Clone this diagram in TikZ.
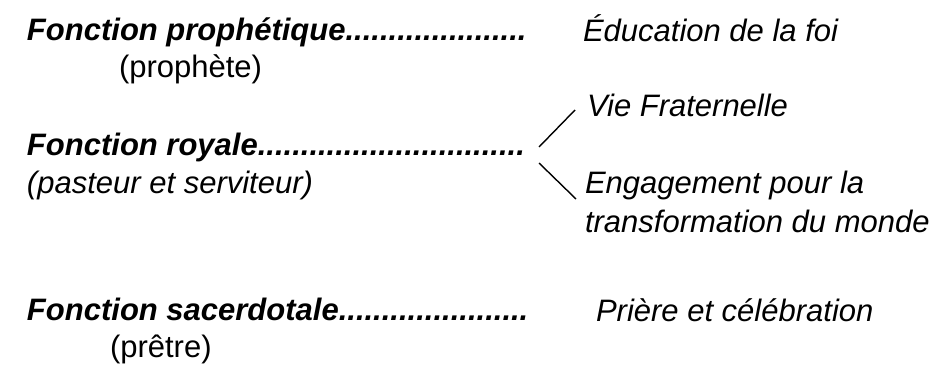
\documentclass[tikz,border=0pt]{standalone}
\usepackage{fontspec}
\setmainfont{Liberation Sans}
\begin{document}
\begin{tikzpicture}[x=1pt,y=-1pt,
  txt/.style={anchor=base west,inner sep=0pt,outer sep=0pt,font=\fontsize{31}{38}\selectfont},
  fn/.style={txt,font=\fontsize{31}{38}\selectfont\bfseries\itshape},
  it/.style={txt,font=\fontsize{31}{38}\selectfont\itshape},
  link/.style={draw=black,line width=1.4pt}]
\useasboundingbox (0,0) rectangle (944,364);
\node[fn] (f1) at (27,40) {Fonction prophétique.....................};
\node[txt] (p1) at (119,77) {(prophète)};
\node[it] (r1) at (583,41) {Éducation de la foi};
\node[it] (r2) at (587,116) {Vie Fraternelle};
\node[fn] (f2) at (27,155) {Fonction royale...............................};
\node[it] (p2) at (27,193) {(pasteur et serviteur)};
\node[it] (r3) at (585,193) {Engagement pour la};
\node[it] (r4) at (585,232) {transformation du monde};
\node[fn] (f3) at (27,320) {Fonction sacerdotale......................};
\node[txt] (p3) at (110,357) {(prêtre)};
\node[it] (r5) at (596,321) {Prière et célébration};
\coordinate (a0) at (539,147);
\coordinate (a1) at (575,110);
\coordinate (b0) at (539,163);
\coordinate (b1) at (576,199);
\draw[link] (a0) -- (a1);
\draw[link] (b0) -- (b1);
\end{tikzpicture}
\end{document}
